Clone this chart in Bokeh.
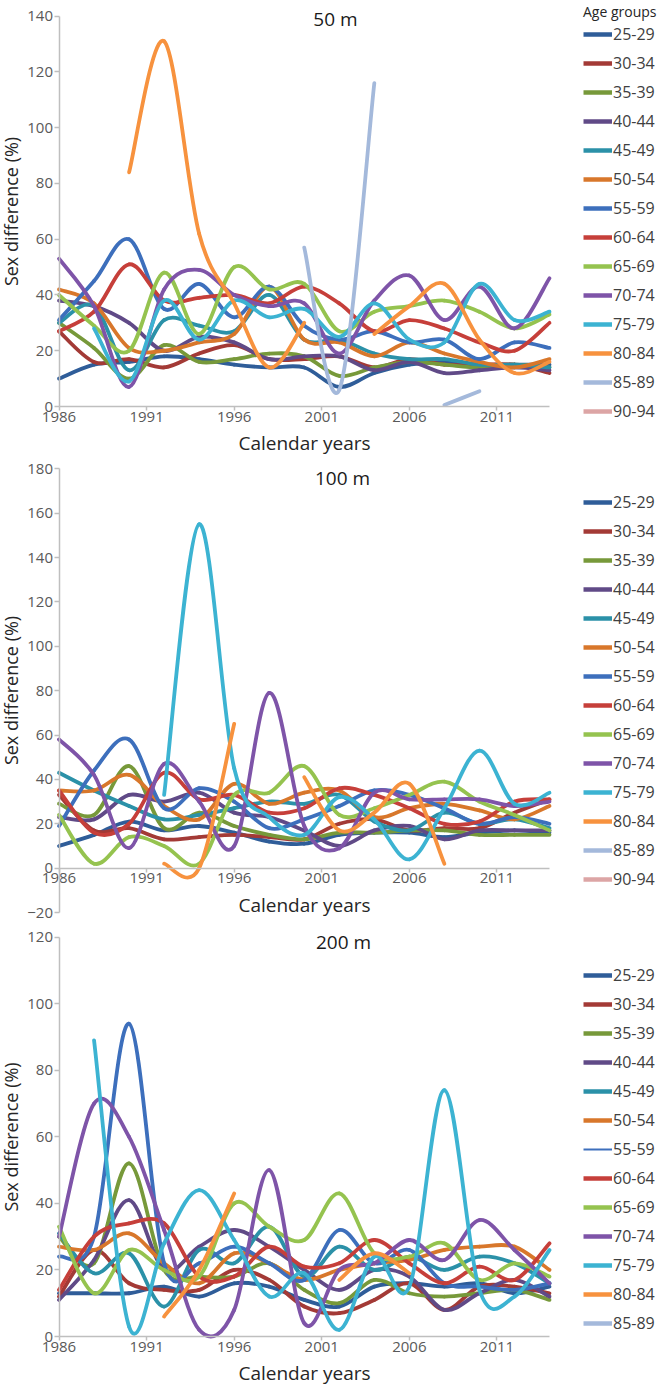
import math
from bokeh.plotting import figure
from bokeh.models import Range1d, FixedTicker, Legend, LegendItem, Label
from bokeh.layouts import column
from bokeh.embed import file_html
from bokeh.resources import INLINE

FONT = "Open Sans"
NAN = float("nan")

YEARS = list(range(1986, 2015, 2))
X_TICKS = [1986, 1991, 1996, 2001, 2006, 2011]

AGE_GROUPS = ["25-29", "30-34", "35-39", "40-44", "45-49", "50-54", "55-59",
              "60-64", "65-69", "70-74", "75-79", "80-84", "85-89", "90-94"]
COLORS = ["#2f5d99", "#a33a36", "#77993a", "#604a87", "#2b91a8", "#d8772b", "#3d6fbc",
          "#c63f3a", "#95c34f", "#7e54a8", "#3cb3d2", "#f7923e", "#a4b9db", "#dca5a5"]

N = None

# 50 m — sex difference (%) per age group, years 1986..2014 every 2 years
M50 = {
    "25-29": [10, 15, 16, 18, 17, 15, 14, 14, 7, 12, 15, 16, 15, 15, 15],
    "30-34": [27, 16, 17, 14, 19, 22, 17, 17, 18, 14, 17, 15, 15, 15, 12],
    "35-39": [30, 21, 10, 22, 16, 17, 19, 18, 11, 14, 16, 15, 14, 15, 14],
    "40-44": [38, 36, 30, 20, 25, 23, 17, 18, 18, 13, 16, 12, 13, 14, 13],
    "45-49": [30, 36, 13, 31, 29, 27, 40, 24, 24, 19, 17, 17, 15, 15, 14],
    "50-54": [42, 37, 21, 20, 23, 26, 43, 24, 23, 18, 23, 19, 16, 14, 17],
    "55-59": [31, 45, 60, 35, 44, 32, 43, 29, 24, 27, 23, 24, 17, 23, 21],
    "60-64": [27, 34, 51, 38, 39, 40, 37, 43, 37, 27, 31, 28, 23, 20, 30],
    "65-69": [40, 29, 20, 48, 26, 50, 42, 44, 27, 34, 36, 38, 34, 28, 33],
    "70-74": [53, 36, 7, 42, 49, 40, 36, 37, 19, 38, 47, 31, 43, 28, 46],
    "75-79": [N, 28, 9, 38, 24, 38, 32, 35, 25, 37, 24, 23, 44, 31, 34],
    "80-84": [N, N, 84, 131, 62, 37, 14, 30, N, 26, 36, 44, 24, 12, 16],
    "85-89": [N, N, N, N, N, N, N, 57, 6, 116, N, 0.5, 5.5, N, N],
    "90-94": [N] * 15,
}

# 100 m
M100 = {
    "25-29": [10, 15, 21, 17, 19, 16, 12, 11, 15, 16, 16, 14, 16, 17, 16],
    "30-34": [33, 17, 18, 13, 14, 15, 14, 13, 20, 22, 17, 18, 18, 25, 31],
    "35-39": [29, 24, 46, 18, 25, 19, 15, 13, 16, 16, 17, 17, 15, 15, 15],
    "40-44": [23, 22, 33, 30, 34, 25, 23, 17, 10, 17, 19, 13, 17, 17, 17],
    "45-49": [43, 35, 28, 22, 24, 27, 30, 29, 33, 21, 17, 25, 20, 22, 18],
    "50-54": [35, 35, 42, 28, 22, 38, 29, 34, 35, 23, 27, 29, 26, 22, 28],
    "55-59": [19, 44, 58, 27, 36, 30, 18, 22, 28, 35, 33, 27, 20, 23, 20],
    "60-64": [35, 16, 20, 43, 31, 33, 25, 27, 36, 33, 27, 20, 21, 30, 31],
    "65-69": [24, 2, 14, 10, 2, 33, 34, 46, 24, 27, 33, 39, 30, 24, 17],
    "70-74": [58, 42, 9, 47, 30, 10, 79, 19, 9, 34, 31, 31, 31, 28, 30],
    "75-79": [N, N, N, 33, 155, 45, 23, 15, 32, 22, 4, 27, 53, 29, 34],
    "80-84": [N, N, N, 2, 0, 65, N, 41, 17, 25, 38, 2, N, N, N],
    "85-89": [N] * 15,
    "90-94": [N] * 15,
}

# 200 m
M200 = {
    "25-29": [13, 13, 13, 15, 12, 16, 15, 11, 9, 15, 16, 15, 16, 13, 15],
    "30-34": [12, 26, 16, 14, 14, 20, 17, 9, 7, 11, 16, 8, 15, 15, 13],
    "35-39": [30, 22, 52, 20, 18, 18, 22, 14, 10, 17, 13, 12, 13, 14, 11],
    "40-44": [11, 23, 41, 20, 27, 32, 27, 20, 14, 20, 18, 8, 13, 17, 12],
    "45-49": [31, 19, 25, 9, 26, 22, 33, 18, 27, 20, 24, 20, 24, 22, 16],
    "50-54": [27, 26, 31, 22, 16, 25, 22, 17, 20, 22, 23, 26, 27, 27, 20],
    "55-59": [24, 30, 94, 22, 22, 27, 22, 17, 32, 22, 26, 16, 15, 14, 16],
    "60-64": [14, 30, 34, 34, 18, 18, 27, 21, 22, 29, 22, 16, 21, 17, 28],
    "65-69": [33, 13, 26, 20, 18, 40, 33, 29, 43, 25, 24, 28, 17, 22, 18],
    "70-74": [30, 70, 60, 32, 2, 8, 50, 4, 20, 22, 29, 23, 35, 26, 16],
    "75-79": [N, 89, 3, 28, 44, 29, 12, 19, 2, 24, 15, 74, 14, 12, 26],
    "80-84": [N, N, N, 6, 20, 43, N, N, 17, 25, 19, N, N, N, N],
    "85-89": [N] * 15,
}

# canvas geometry (pixels inside each figure)
FIG_W = 664
AX_LEFT_PX = 58.5    # x pixel of 1986
AX_RIGHT_PX = 549.0  # x pixel of 2014
X0, X1 = 1986, 2014
LEGEND_X = 583


def smooth_segments(xs, ys):
    """Bezier control points (Excel-style smoothed line) between consecutive valid points."""
    out = {k: [] for k in ("x0", "y0", "x1", "y1", "cx0", "cy0", "cx1", "cy1")}
    n = len(xs)
    ok = [v is not None for v in ys]
    for i in range(n - 1):
        if not (ok[i] and ok[i + 1]):
            continue
        a = i - 1 if i - 1 >= 0 and ok[i - 1] else i
        d = i + 2 if i + 2 < n and ok[i + 2] else i + 1
        out["x0"].append(xs[i]); out["y0"].append(ys[i])
        out["x1"].append(xs[i + 1]); out["y1"].append(ys[i + 1])
        out["cx0"].append(xs[i] + (xs[i + 1] - xs[a]) / 6.0)
        out["cy0"].append(ys[i] + (ys[i + 1] - ys[a]) / 6.0)
        out["cx1"].append(xs[i + 1] - (xs[d] - xs[i]) / 6.0)
        out["cy1"].append(ys[i + 1] - (ys[d] - ys[i]) / 6.0)
    return out


def make_panel(title, data, y_lo, y_hi, height, top_px, bottom_px, title_px,
               legend_vy, legend_title=None, thin=()):
    # frame spans the whole canvas; axes are drawn at fixed locations with bounds
    xppu = (AX_RIGHT_PX - AX_LEFT_PX) / (X1 - X0)
    x_start = X0 - AX_LEFT_PX / xppu
    x_end = X1 + (FIG_W - AX_RIGHT_PX) / xppu
    yppu = (bottom_px - top_px) / (y_hi - y_lo)
    y_end = y_hi + top_px / yppu
    y_start = y_lo - (height - bottom_px) / yppu

    p = figure(width=FIG_W, height=height,
               x_range=Range1d(x_start, x_end), y_range=Range1d(y_start, y_end),
               output_backend="svg", toolbar_location=None, min_border=0)
    p.title.visible = False
    p.outline_line_color = None
    p.xgrid.visible = False
    p.ygrid.visible = False

    ax = p.xaxis[0]
    ax.fixed_location = 0
    ax.bounds = (X0, X1)
    ax.ticker = FixedTicker(ticks=X_TICKS)
    ax.axis_label = "Calendar years"
    ax.major_tick_out = 4
    ax.major_label_standoff = 1
    ax.axis_label_standoff = 5
    ax.axis_label_text_font_size = "19px"

    ay = p.yaxis[0]
    ay.fixed_location = X0
    ay.bounds = (y_lo, y_hi)
    ay.ticker = FixedTicker(ticks=list(range(int(y_lo), int(y_hi) + 1, 20)))
    ay.axis_label = "Sex difference (%)"
    ay.major_tick_out = 5
    ay.major_label_standoff = 1
    ay.axis_label_standoff = 2
    ay.axis_label_text_font_size = "18px"

    for a in (ax, ay):
        a.axis_line_color = "#bfbfbf"
        a.axis_line_width = 1.5
        a.major_tick_line_color = "#bfbfbf"
        a.major_tick_line_width = 1.5
        a.major_tick_in = 0
        a.minor_tick_line_color = None
        a.major_label_text_font = FONT
        a.major_label_text_font_size = "15px"
        a.major_label_text_color = "#595959"
        a.axis_label_text_font = FONT
        a.axis_label_text_font_style = "normal"
        a.axis_label_text_color = "#262626"

    items = []
    for g, c in zip(AGE_GROUPS, COLORS):
        if g not in data:
            continue
        seg = smooth_segments(YEARS, data[g])
        if seg["x0"]:
            p.bezier(x0="x0", y0="y0", x1="x1", y1="y1",
                     cx0="cx0", cy0="cy0", cx1="cx1", cy1="cy1",
                     source=seg, line_color=c, line_width=3.8,
                     line_cap="round")
        lr = p.line(x=[NAN, NAN], y=[NAN, NAN], line_color=c,
                    line_width=2 if g in thin else 4.5)
        items.append(LegendItem(label=g, renderers=[lr]))

    leg = Legend(items=items, location=(LEGEND_X, legend_vy),
                 padding=0, margin=0, spacing=7,
                 glyph_width=29, glyph_height=22, label_height=22,
                 label_standoff=1,
                 label_text_font=FONT, label_text_font_size="16px",
                 label_text_color="#404040",
                 background_fill_alpha=0, border_line_alpha=0)
    if legend_title:
        leg.title = legend_title
        leg.title_text_font = FONT
        leg.title_text_font_size = "14px"
        leg.title_text_font_style = "normal"
        leg.title_text_color = "#262626"
        leg.title_standoff = 2
    p.add_layout(leg)

    tx = x_start + title_px[0] / xppu
    ty = y_end - title_px[1] / yppu
    p.add_layout(Label(x=tx, y=ty, text=title,
                       text_align="center", text_baseline="middle",
                       text_font=FONT, text_font_size="19px",
                       text_color="#1a1a1a"))
    return p


p1 = make_panel("50 m", M50, 0, 140, 458, 15.7, 406.0, (335, 18), 36,
                legend_title="Age groups")
p2 = make_panel("100 m", M100, -20, 180, 468, 10.3, 454.0, (342, 19), 36)
p3 = make_panel("200 m", M200, 0, 120, 462, 10.7, 410.0, (343, 15), 54,
                thin=("55-59",))

layout = column(p1, p2, p3, spacing=0)
open("out.html", "w").write(file_html(layout, INLINE))
